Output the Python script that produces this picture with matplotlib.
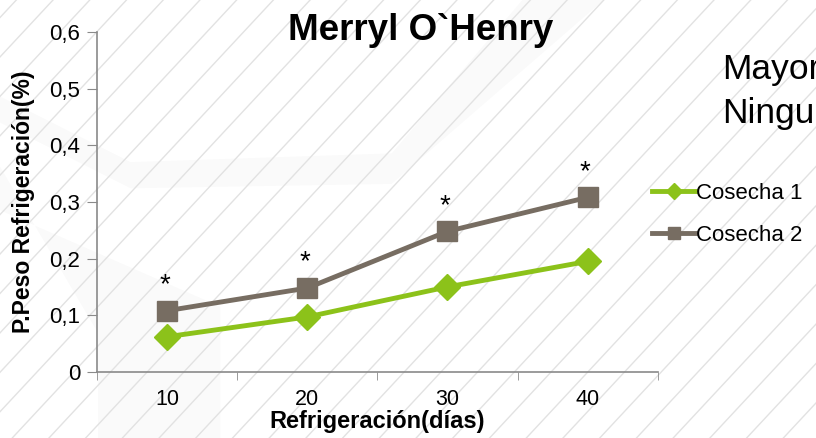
import numpy as np
import matplotlib
matplotlib.use("Agg")
import matplotlib.pyplot as plt
from matplotlib.lines import Line2D
from matplotlib.patches import Polygon

# data
dias = ["10", "20", "30", "40"]
cosecha1 = [0.062, 0.097, 0.150, 0.195]
cosecha2 = [0.108, 0.148, 0.248, 0.308]
signif = ["*", "*", "*", "*"]
yticks = [0, 0.1, 0.2, 0.3, 0.4, 0.5, 0.6]

verde = "#8cc21a"
cafe = "#776d62"

plt.rcParams['font.family'] = ['Liberation Sans', 'DejaVu Sans']

fig = plt.figure(figsize=(8.16, 4.38), dpi=100)
fig.patch.set_facecolor("white")

# background: soft grey shapes and diagonal stripes
for pts in [[(0, 0.78), (0, 0.72), (0.16, 0.57), (0.48, 0.58), (0.74, 1.0), (0.64, 1.0), (0.48, 0.65), (0.16, 0.63)],
            [(0, 0.62), (0, 0.52), (0.27, 0.30), (0.27, 0.0), (0.12, 0.0), (0.12, 0.24)]]:
    fig.patches.append(Polygon(pts, closed=True, transform=fig.transFigure,
                               facecolor="#000000", alpha=0.02, edgecolor="none", zorder=-2))
for x0 in np.arange(-1.2, 1.0, 0.045):
    fig.lines.append(Line2D([x0, x0 + 0.5], [0, 1.0], transform=fig.transFigure,
                            color="#e2e2e2", lw=1.0, zorder=-1))

ax = fig.add_axes([0.119, 0.151, 0.687, 0.776])
ax.set_facecolor("none")
x = np.arange(len(dias))

ax.plot(x, cosecha1, color=verde, lw=3.5, marker="D", markersize=13, label="Cosecha 1", zorder=3)
ax.plot(x, cosecha2, color=cafe, lw=3.5, marker="s", markersize=15, label="Cosecha 2", zorder=3)
for xi, yi, s in zip(x, cosecha2, signif):
    ax.annotate(s, (xi, yi), xytext=(-2, 9), textcoords="offset points",
                ha="center", va="bottom", fontsize=20)

ax.set_xlim(-0.5, len(dias) - 0.5)
ax.set_ylim(0, 0.6)
ax.set_yticks(yticks)
ax.set_yticklabels([f"{v:.1f}".replace(".", ",") if v else "0" for v in yticks])
ax.set_xticks(x)
ax.set_xticklabels(dias)
ax.set_xticks(np.arange(-0.5, len(dias)), minor=True)
ax.tick_params(axis="x", which="major", length=0, pad=12, labelsize=15.5)
ax.tick_params(axis="x", which="minor", length=6, color="#8a8a8a", direction="out")
ax.tick_params(axis="y", length=7, color="#8a8a8a", direction="out", labelsize=16, pad=5)
for s in ["top", "right"]:
    ax.spines[s].set_visible(False)
for s in ["left", "bottom"]:
    ax.spines[s].set_color("#8a8a8a")
    ax.spines[s].set_linewidth(1.2)

ax.set_xlabel("Refrigeración(días)", fontsize=17, fontweight="bold", labelpad=0)
ax.set_ylabel("P.Peso Refrigeración(%)", fontsize=16.5, fontweight="bold")
ax.yaxis.set_label_coords(-0.11, 0.5)
fig.text(0.515, 0.93, "Merryl O`Henry", ha="center", va="center", fontsize=26.5, fontweight="bold")

fig.legend(loc="center left", bbox_to_anchor=(0.775, 0.51), frameon=False, fontsize=16,
           handlelength=1.9, handletextpad=0.05, labelspacing=0.95, markerscale=0.6)

fig.text(0.885, 0.842, "Mayor", fontsize=25.5, va="center")
fig.text(0.885, 0.74, "Ningu", fontsize=25.5, va="center")

fig.savefig("out.png", dpi=100)
